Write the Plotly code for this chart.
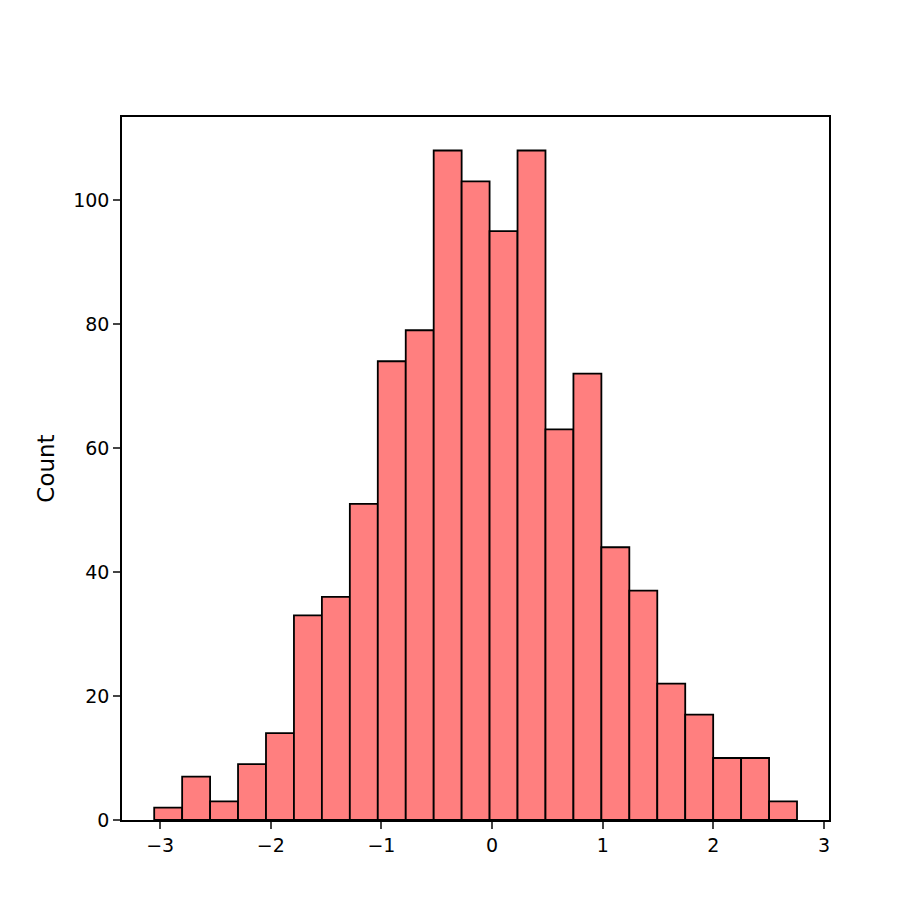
import plotly.graph_objects as go

counts = [2, 7, 3, 9, 14, 33, 36, 51, 74, 79, 108, 103, 95, 108, 63, 72, 44, 37, 22, 17, 10, 10, 3]
bin_start = -3.054
bin_end = 2.756
n = len(counts)
w = (bin_end - bin_start) / n
centers = [bin_start + w * (i + 0.5) for i in range(n)]

fig = go.Figure(go.Bar(
    x=centers, y=counts, width=w,
    marker=dict(color="#ff7f7f", line=dict(color="black", width=1.8)),
))
fig.update_layout(
    width=912, height=912, plot_bgcolor="white", paper_bgcolor="white",
    margin=dict(l=114, r=91, t=109, b=100),
    font=dict(family="DejaVu Sans", size=19, color="black"),
    showlegend=False,
)
fig.update_xaxes(range=[-3.345, 3.045], tickvals=[-3, -2, -1, 0, 1, 2, 3],
                 ticktext=["−3", "−2", "−1", "0", "1", "2", "3"],
                 showgrid=False, zeroline=False, showline=True, mirror=True,
                 linecolor="black", linewidth=1.5, ticks="outside", ticklen=7, tickwidth=1.5)
fig.update_yaxes(range=[0, 113.4], tickvals=[0, 20, 40, 60, 80, 100],
                 title=dict(text="Count", standoff=12),
                 showgrid=False, zeroline=False, showline=True, mirror=True,
                 linecolor="black", linewidth=1.5, ticks="outside", ticklen=7, tickwidth=1.5)
fig.write_html("out.html")
